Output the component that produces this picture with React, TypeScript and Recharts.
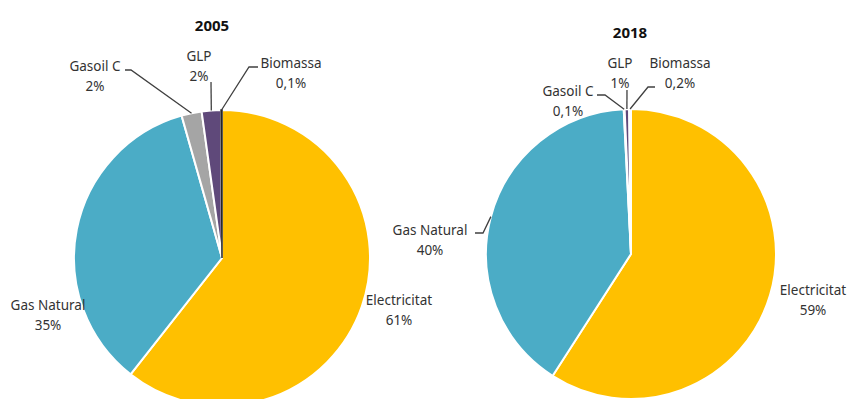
import React from 'react';
import { PieChart, Pie, Cell } from 'recharts';

const CATEGORIES = ['Electricitat', 'Gas Natural', 'Gasoil C', 'GLP', 'Biomassa'];
const VALUES_2005 = [60.6, 35.0, 2.2, 2.1, 0.1];
const LABELS_2005 = ['61%', '35%', '2%', '2%', '0,1%'];
const VALUES_2018 = [59.1, 40.1, 0.1, 0.5, 0.2];
const LABELS_2018 = ['59%', '40%', '0,1%', '1%', '0,2%'];
const COLORS = ['#FFC000', '#4BACC6', '#A5A5A5', '#5F497A', '#262626'];

const FONT = '"Noto Sans", sans-serif';
const TEXT = '#333333';

// label placement relative to the pie centre: text centre, leader start, elbow
type LabelPos = { tx: number; ty: number; lead?: [number, number, number, number] };

const POS_2005: LabelPos[] = [
    { tx: 177, ty: 42 },
    { tx: -174, ty: 47 },
    { tx: -127, ty: -192, lead: [-97, -188, -91, -188] },
    { tx: -23, ty: -202, lead: [-11, -176, -11, -176] },
    { tx: 69, ty: -195, lead: [36, -191, 27, -191] },
];

const POS_2018: LabelPos[] = [
    { tx: 182, ty: 36 },
    { tx: -201, ty: -24, lead: [-156, -21, -148, -21] },
    { tx: -63, ty: -163, lead: [-34, -159, -26, -159] },
    { tx: -11, ty: -191, lead: [-4, -164, -4, -164] },
    { tx: 49, ty: -191, lead: [24, -167, 17, -167] },
];

const RAD = Math.PI / 180;

const makeLabel = (labels: string[], pos: LabelPos[]) => (props: any) => {
    const { cx, cy, midAngle, outerRadius, index } = props;
    const p = pos[index];
    const x = cx + p.tx;
    const y = cy + p.ty;
    let line = null;
    if (p.lead) {
        const ex = cx + outerRadius * Math.cos(-midAngle * RAD);
        const ey = cy + outerRadius * Math.sin(-midAngle * RAD);
        const pts = `${cx + p.lead[0]},${cy + p.lead[1]} ${cx + p.lead[2]},${cy + p.lead[3]} ${ex},${ey}`;
        line = <polyline points={pts} fill="none" stroke="#404040" strokeWidth={1.3} />;
    }
    return (
        <g key={`lbl-${index}`}>
            {line}
            <text x={x} y={y} textAnchor="middle" dominantBaseline="central" fill={TEXT} fontSize={13.5} fontFamily={FONT}>
                {CATEGORIES[index]}
            </text>
            <text x={x} y={y + 20} textAnchor="middle" dominantBaseline="central" fill={TEXT} fontSize={13.5} fontFamily={FONT}>
                {labels[index]}
            </text>
        </g>
    );
};

const App: React.FC = () => {
    const data2005 = CATEGORIES.map((name, i) => ({ name, value: VALUES_2005[i] }));
    const data2018 = CATEGORIES.map((name, i) => ({ name, value: VALUES_2018[i] }));

    const titleStyle: React.CSSProperties = {
        position: 'absolute',
        fontFamily: FONT,
        fontWeight: 'bold',
        fontSize: 15,
        color: '#111',
        transform: 'translate(-50%, -50%)',
    };

    return (
        <div style={{ position: 'absolute', left: 0, top: 0, width: 850, height: 399, background: '#fff', overflow: 'hidden' }}>
            <div style={{ ...titleStyle, left: 212, top: 25 }}>2005</div>
            <div style={{ ...titleStyle, left: 630, top: 32 }}>2018</div>
            <PieChart width={850} height={399} margin={{ top: 0, right: 0, bottom: 0, left: 0 }}>
                <Pie
                    data={data2005}
                    dataKey="value"
                    cx={222}
                    cy={258}
                    outerRadius={148}
                    startAngle={90}
                    endAngle={-270}
                    stroke="#fff"
                    strokeWidth={2}
                    label={makeLabel(LABELS_2005, POS_2005)}
                    labelLine={false}
                    isAnimationActive={false}
                >
                    {data2005.map((d, i) => (
                        <Cell key={`c05-${i}`} fill={COLORS[i]} stroke={i === 4 ? COLORS[4] : '#fff'} strokeWidth={i === 4 ? 1.5 : 2} />
                    ))}
                </Pie>
                <Pie
                    data={data2018}
                    dataKey="value"
                    cx={631}
                    cy={254}
                    outerRadius={145}
                    startAngle={90}
                    endAngle={-270}
                    stroke="#fff"
                    strokeWidth={2}
                    label={makeLabel(LABELS_2018, POS_2018)}
                    labelLine={false}
                    isAnimationActive={false}
                >
                    {data2018.map((d, i) => (
                        <Cell key={`c18-${i}`} fill={COLORS[i]} />
                    ))}
                </Pie>
            </PieChart>
        </div>
    );
};

export default App;
